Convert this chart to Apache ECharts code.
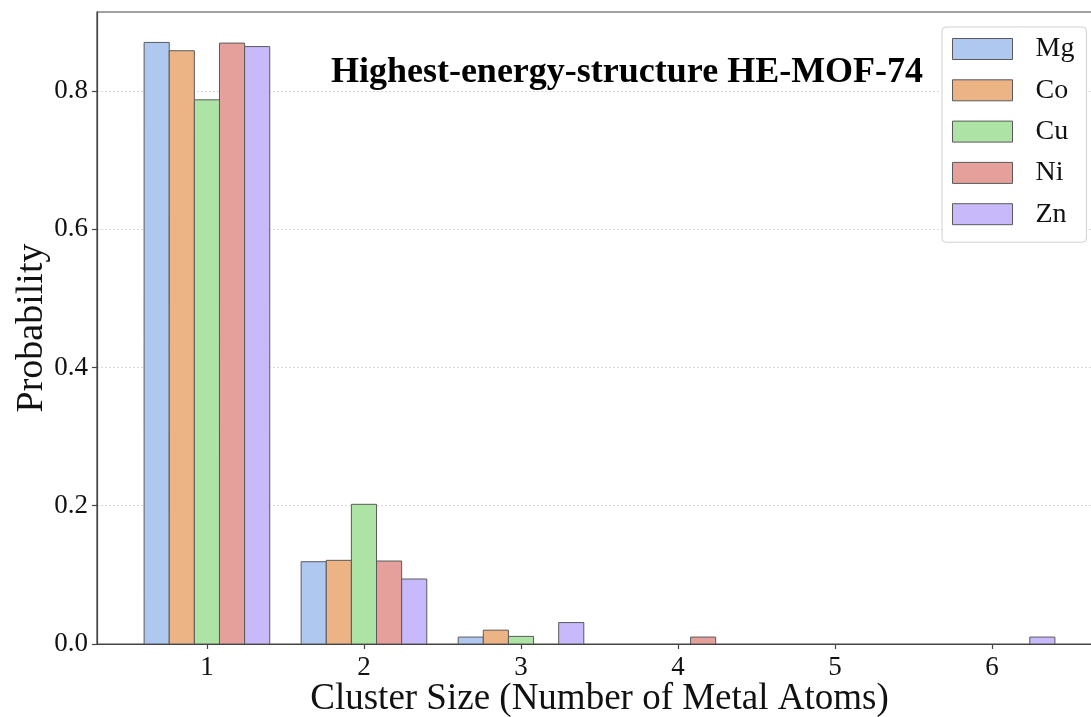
<!DOCTYPE html>
<html>
<head>
<meta charset="utf-8">
<script src="https://cdn.jsdelivr.net/npm/echarts@6/dist/echarts.min.js"></script>
<style>
html,body{margin:0;padding:0;background:#fff;}
#chart{width:1091px;height:717px;}
</style>
</head>
<body>
<div id="chart"></div>
<script>
// ---- data ----
const clusterSizes = [1, 2, 3, 4, 5, 6];
const seriesNames = ['Mg', 'Co', 'Cu', 'Ni', 'Zn'];
const mgValues = [0.870, 0.119, 0.010, 0, 0, 0];
const coValues = [0.858, 0.121, 0.020, 0, 0, 0];
const cuValues = [0.787, 0.202, 0.011, 0, 0, 0];
const niValues = [0.869, 0.120, 0, 0.010, 0, 0];
const znValues = [0.864, 0.094, 0.031, 0, 0, 0.010];
const yTicks = [0, 0.2, 0.4, 0.6, 0.8];
const titleText = 'Highest-energy-structure HE-MOF-74';

// ---- styling ----
const colors = ['#aec8f0', '#ecb385', '#ade4a5', '#e6a09b', '#c8b9fb'];
const edgeColor = '#5a5a5a';
const FONT = '"Liberation Serif", "Times New Roman", serif';
const allValues = [mgValues, coValues, cuValues, niValues, znValues];
const barW = 0.16;
const offsets = [-0.32, -0.16, 0, 0.16, 0.32];

const series = seriesNames.map((name, si) => ({
  name: name,
  type: 'custom',
  clip: true,
  itemStyle: { color: colors[si], borderColor: edgeColor, borderWidth: 1 },
  data: clusterSizes.map((c, i) => [c, allValues[si][i]]),
  encode: { x: 0, y: 1 },
  renderItem: function (params, api) {
    const x = api.value(0), y = api.value(1);
    if (!y) return null;
    const p0 = api.coord([x + offsets[si] - barW / 2, y]);
    const p1 = api.coord([x + offsets[si] + barW / 2, 0]);
    return {
      type: 'rect',
      shape: { x: p0[0], y: p0[1], width: p1[0] - p0[0], height: p1[1] - p0[1] },
      style: { fill: colors[si], stroke: edgeColor, lineWidth: 1 }
    };
  }
}));

const chart = echarts.init(document.getElementById('chart'), null, { renderer: 'canvas' });
chart.setOption({
  animation: false,
  backgroundColor: '#fff',
  grid: {
    left: 97, right: -11, top: 12, bottom: 73,
    outerBoundsMode: 'none',
    containLabel: false,
    show: true, borderColor: '#444', borderWidth: 1.2, backgroundColor: 'transparent'
  },
  xAxis: {
    type: 'value',
    min: 0.3, max: 6.7,
    name: 'Cluster Size (Number of Metal Atoms)',
    nameLocation: 'middle',
    nameGap: 37,
    nameMoveOverlap: false,
    nameTextStyle: { fontFamily: FONT, fontSize: 37, color: '#111' },
    axisLine: { show: true, lineStyle: { color: '#444', width: 1.2 } },
    axisTick: { show: true, length: 5, customValues: clusterSizes, lineStyle: { color: '#444', width: 1.2 } },
    axisLabel: { customValues: clusterSizes, fontFamily: FONT, fontSize: 27, color: '#111', margin: 10 },
    splitLine: { show: false }
  },
  yAxis: {
    type: 'value',
    min: 0, max: 0.914,
    name: 'Probability',
    nameLocation: 'middle',
    nameGap: 46,
    nameMoveOverlap: false,
    nameTextStyle: { fontFamily: FONT, fontSize: 38, color: '#111' },
    axisLine: { show: true, lineStyle: { color: '#444', width: 1.2 } },
    axisTick: { show: true, length: 5, customValues: yTicks, lineStyle: { color: '#444', width: 1.2 } },
    axisLabel: { customValues: yTicks, fontFamily: FONT, fontSize: 27, color: '#111', margin: 9,
      formatter: v => v.toFixed(1) },
    splitLine: { show: true, lineStyle: { color: '#d8d8d8', type: [2, 2], width: 1 } }
  },
  legend: {
    orient: 'vertical',
    left: 942, top: 27,
    padding: [8, 12, 14, 10],
    backgroundColor: '#fff',
    borderColor: '#d0d0d0', borderWidth: 1, borderRadius: 4,
    icon: 'rect',
    itemWidth: 60, itemHeight: 21, itemGap: 13.3,
    textStyle: { fontFamily: FONT, fontSize: 28, color: '#111', padding: [0, 0, 0, 18] },
    data: seriesNames.map((n, i) => ({ name: n, itemStyle: { color: colors[i], borderColor: edgeColor, borderWidth: 1 } }))
  },
  graphic: [{
    type: 'text',
    x: 627, y: 72.5,
    style: {
      text: titleText,
      fontFamily: FONT, fontSize: 36, fontWeight: 'bold', fill: '#000',
      align: 'center', verticalAlign: 'middle'
    }
  }],
  series: series
});
</script>
</body>
</html>
